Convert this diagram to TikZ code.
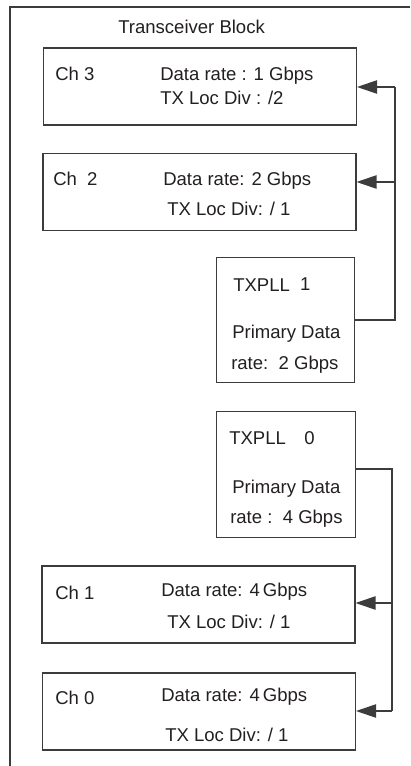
\documentclass[tikz,border=0pt]{standalone}
\usepackage{fontspec}
\setmainfont{Liberation Sans}
\usetikzlibrary{arrows.meta,positioning}
\definecolor{InkDark}{HTML}{231F20}
\definecolor{WireGray}{HTML}{3C3C3C}
\tikzset{>={Triangle[length=15pt,width=10pt]},
 every node/.style={font=\fontsize{13.9}{16}\selectfont,text=InkDark},
 chbox/.style={draw=WireGray,line width=.8pt,minimum width=234.75pt,
 minimum height=57.75pt,inner sep=0pt},
 pllbox/.style={draw=WireGray,line width=.8pt,minimum width=104pt,
 minimum height=94pt,inner sep=0pt},
 lbl/.style={anchor=base west,inner sep=0pt,yshift=-5pt},
 wire/.style={draw=WireGray,line width=.9pt}}
\begin{document}
\begin{tikzpicture}[x=.75pt,y=-.75pt]
\useasboundingbox (0,0) rectangle (410,766);
% outer block, open at right and bottom
\coordinate (blkbot) at (10,766);\coordinate (blktl) at (10,7);\coordinate (blktr) at (410,7);
\draw[wire,line width=.8pt] (blkbot)--(blktl)--(blktr);
\node[lbl] (title) at (118,27) {Transceiver Block};
% channels
\node[chbox] (ch3) at (200,86.5) {};
\node[chbox] (ch2) at (199.5,192) {};
\node[chbox] (ch1) at (198.5,604.5) {};
\node[chbox] (ch0) at (199,711.5) {};
\node[lbl] (ch3id) at (55,74) {Ch 3};
\node[lbl] (ch3rate) at (160,74) {Data rate : 1 Gbps};
\node[lbl] (ch3div) at (160,98) {TX Loc Div : /2};
\node[lbl] (ch2id) at (53,179) {Ch\ \ 2};
\node[lbl] (ch2rate) at (163,179) {Data rate: 2 Gbps};
\node[lbl] (ch2div) at (167,209) {TX Loc Div: / 1};
\node[lbl] (ch1id) at (55,593) {Ch 1};
\node[lbl] (ch1rate) at (161,590) {Data rate: 4\,Gbps};
\node[lbl] (ch1div) at (167,622) {TX Loc Div: / 1};
\node[lbl] (ch0id) at (55,698) {Ch 0};
\node[lbl] (ch0rate) at (161,695) {Data rate: 4\,Gbps};
\node[lbl] (ch0div) at (165,735) {TX Loc Div: / 1};
% PLLs
\node[pllbox] (pll1) at (285.5,320) {};
\node[pllbox] (pll0) at (286,474.5) {};
\node[lbl] (pll1id) at (233,285) {TXPLL\hspace{.55em}\raisebox{1pt}{1}};
\node[lbl] (pll1a) at (232,332) {Primary Data};
\node[lbl] (pll1b) at (231,363) {rate:\ \ 2 Gbps};
\node[lbl] (pll0id) at (229,438) {TXPLL\hspace{1em}0};
\node[lbl] (pll0a) at (232,487) {Primary Data};
\node[lbl] (pll0b) at (230,517) {rate :\ \ 4 Gbps};
% clock routing
\coordinate (tap3) at (395,87);\coordinate (tap2) at (395,182);
\coordinate (src0) at (392,469);\coordinate (tap1) at (392,603);\coordinate (tap0) at (392,711);
\draw[wire] (pll1.east) -| (tap3);
\draw[wire,->] (tap3)--(tap3 -| ch3.east);
\draw[wire,->] (tap2)--(tap2 -| ch2.east);
\draw[wire] (src0 -| pll0.east)--(src0)--(tap0);
\draw[wire,->] (tap1)--(tap1 -| ch1.east);
\draw[wire,->] (tap0)--(tap0 -| ch0.east);
\end{tikzpicture}
\end{document}
